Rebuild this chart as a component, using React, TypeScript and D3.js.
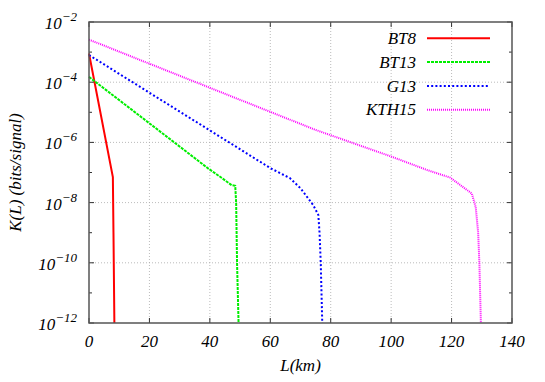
import React from 'react';
import * as d3 from 'd3';

// L (km) vs K(L) (bits/signal)
const bt8: [number, number][] = [
  [0, 9e-4], [7.9, 7e-8], [8.1, 1e-9], [8.2, 1e-10], [8.4, 1e-12],
];
const bt13: [number, number][] = [
  [0, 1.5e-4], [39.5, 1.35e-7], [43.4, 7.2e-8], [47.2, 3.8e-8], [48.4, 3.6e-8],
  [48.7, 1e-8], [49.0, 1e-10], [49.5, 1e-12],
];
const g13: [number, number][] = [
  [0, 8e-4], [60, 1.4e-7], [66.5, 6.5e-8], [70, 3e-8], [74.2, 8.3e-9], [75.9, 3.9e-9],
  [76.3, 1e-9], [76.7, 1e-10], [77.2, 1e-12],
];
const kth15: [number, number][] = [
  [0, 2.6e-3], [75, 2.6e-6], [100, 3.4e-7], [112, 1.2e-7], [119.5, 6.8e-8],
  [126.7, 2.0e-8], [128, 7e-9], [128.8, 1e-9], [129.2, 1e-10], [129.7, 1e-12],
];

const seriesNames = ['BT8', 'BT13', 'G13', 'KTH15'];
const seriesData = [bt8, bt13, g13, kth15];
const seriesColors = ['#ff0000', '#00ee00', '#0000ff', '#ff00ff'];
const seriesDash = ['none', '3,1', '2,2.2', '1,1'];

const xTicks = [0, 20, 40, 60, 80, 100, 120, 140];
const yMajorExp = [-2, -4, -6, -8, -10, -12];
const yMinorExp = [-3, -5, -7, -9, -11];

const W = 545;
const H = 382;
const m = { top: 22, right: 33, bottom: 59, left: 89 };
const FF = "'Liberation Serif', Tinos, 'Times New Roman', FreeSerif, 'DejaVu Serif', serif";

function Label(props: React.SVGProps<SVGTextElement>) {
  return <text fontFamily={FF} fontStyle="italic" fontSize={17} {...props} />;
}

export default function App() {
  const x = d3.scaleLinear().domain([0, 140]).range([m.left, W - m.right]);
  const y = d3.scaleLog().domain([1e-12, 1e-2]).range([H - m.bottom, m.top]);
  const line = d3.line<[number, number]>()
    .x(d => x(d[0]))
    .y(d => y(d[1]));

  const x0 = x(0), x1 = x(140), y0 = y(1e-12), y1 = y(1e-2);

  return (
    <div style={{ position: 'absolute', left: 0, top: 0, fontFamily: FF }}>
      <svg width={W} height={H}>
        {/* grid */}
        {xTicks.slice(1, -1).map(t => (
          <line key={'gx' + t} x1={x(t)} x2={x(t)} y1={y0} y2={y1} stroke="#aaa" strokeWidth={0.8} strokeDasharray="1,2" />
        ))}
        {yMajorExp.slice(1, -1).map(e => (
          <line key={'gy' + e} x1={x0} x2={x1} y1={y(Math.pow(10, e))} y2={y(Math.pow(10, e))} stroke="#aaa" strokeWidth={0.8} strokeDasharray="1,2" />
        ))}

        {/* ticks */}
        {xTicks.map(t => (
          <g key={'tx' + t}>
            <line x1={x(t)} x2={x(t)} y1={y0} y2={y0 - 5} stroke="#333" />
            <line x1={x(t)} x2={x(t)} y1={y1} y2={y1 + 5} stroke="#333" />
            <Label x={x(t)} y={y0 + 24} textAnchor="middle">{t}</Label>
          </g>
        ))}
        {yMajorExp.map(e => (
          <g key={'ty' + e}>
            <line x1={x0} x2={x0 + 5} y1={y(Math.pow(10, e))} y2={y(Math.pow(10, e))} stroke="#333" />
            <line x1={x1} x2={x1 - 5} y1={y(Math.pow(10, e))} y2={y(Math.pow(10, e))} stroke="#333" />
            <Label x={77} y={y(Math.pow(10, e)) + 7} textAnchor="end">
              10<tspan dy={-8} fontSize={13}>{'\u2212' + Math.abs(e)}</tspan>
            </Label>
          </g>
        ))}
        {yMinorExp.map(e => (
          <g key={'my' + e}>
            <line x1={x0} x2={x0 + 3} y1={y(Math.pow(10, e))} y2={y(Math.pow(10, e))} stroke="#333" />
            <line x1={x1} x2={x1 - 3} y1={y(Math.pow(10, e))} y2={y(Math.pow(10, e))} stroke="#333" />
          </g>
        ))}

        {/* series */}
        {seriesData.map((d, i) => (
          <path key={seriesNames[i]} d={line(d) || ''} fill="none" stroke={seriesColors[i]}
            strokeWidth={2} strokeDasharray={seriesDash[i]} />
        ))}

        {/* frame */}
        <rect x={x0} y={y1} width={x1 - x0} height={y0 - y1} fill="none" stroke="#555" strokeWidth={1.5} />

        {/* legend */}
        {seriesNames.map((n, i) => (
          <g key={'lg' + n}>
            <Label x={416} y={44 + i * 23.8} textAnchor="end">{n}</Label>
            <line x1={427} x2={490} y1={38.3 + i * 23.8} y2={38.3 + i * 23.8} stroke={seriesColors[i]}
              strokeWidth={2} strokeDasharray={seriesDash[i]} />
          </g>
        ))}

        {/* axis labels */}
        <Label x={(x0 + x1) / 2} y={371} textAnchor="middle">L(km)</Label>
        <Label transform={`translate(21,${(y0 + y1) / 2}) rotate(-90)`} textAnchor="middle">
          K(L) (bits/signal)
        </Label>
      </svg>
    </div>
  );
}
